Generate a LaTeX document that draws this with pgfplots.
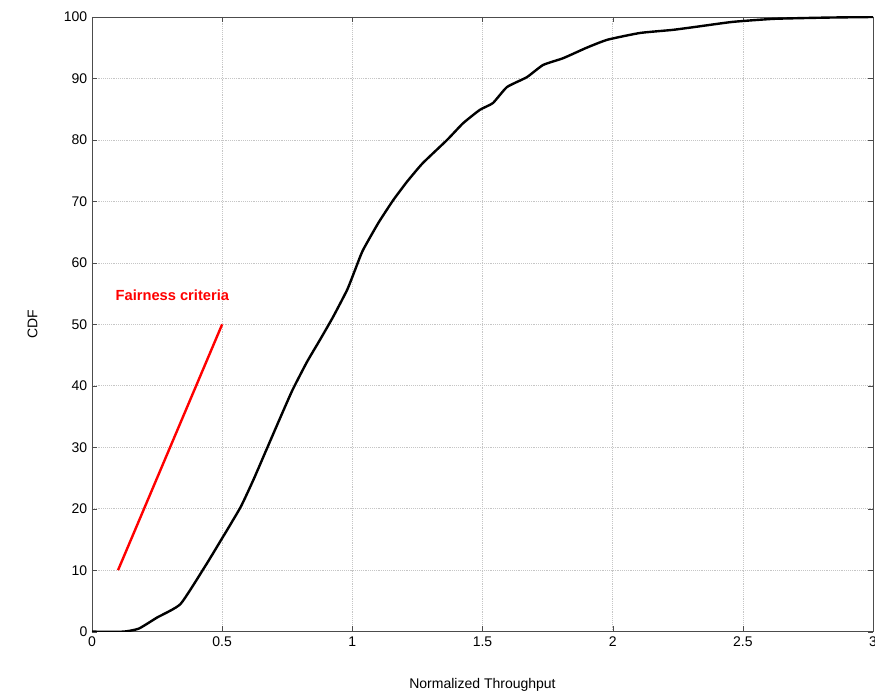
\documentclass[border=0pt]{standalone}
\usepackage{fontspec}
\setmainfont{Liberation Sans}
\usepackage{pgfplots}
\pgfplotsset{compat=1.18}
\usetikzlibrary{calc}

% CDF of normalized throughput
\pgfplotstableread{
x y
0.00 0.0
0.12 0.0
0.18 0.5
0.25 2.3
0.34 4.5
0.434 10.6
0.49 14.5
0.57 20.2
0.62 24.7
0.67 29.6
0.72 34.5
0.77 39.3
0.826 43.9
0.876 47.5
0.926 51.2
0.98 55.6
1.01 58.8
1.04 62.0
1.10 66.5
1.157 70.2
1.21 73.2
1.27 76.2
1.364 80.0
1.425 82.7
1.49 84.9
1.54 86.0
1.594 88.6
1.67 90.2
1.733 92.2
1.81 93.3
1.90 95.0
1.98 96.3
2.105 97.4
2.23 97.9
2.32 98.4
2.46 99.2
2.62 99.7
2.82 99.9
3.00 100.0
}\cdfdata

\begin{document}
\begin{tikzpicture}
\begin{axis}[
  scale only axis,
  width=585.75pt, height=461pt,
  xmin=0, xmax=3, ymin=0, ymax=100,
  xtick={0,0.5,1,1.5,2,2.5,3},
  ytick={0,10,...,100},
  xticklabels={0,0.5,1,1.5,2,2.5,3},
  grid=major,
  major grid style={densely dotted, gray!45, line width=0.5pt},
  tick align=inside,
  tick pos=both,
  major tick length=4pt,
  axis line style={gray!60!black, line width=0.6pt},
  tick style={gray!60!black},
  tick label style={font=\fontsize{10.5}{12}\selectfont},
  /pgf/number format/assume math mode=true,
  xlabel={Normalized Throughput},
  ylabel={CDF},
  label style={font=\fontsize{10.5}{12}\selectfont},
  xlabel style={yshift=-17pt},
  ylabel style={yshift=13pt},
]
\addplot[black, line width=1.8pt, smooth, tension=0.3] table[x=x, y=y] {\cdfdata};
\addplot[red, line width=1.8pt] coordinates {(0.1,10) (0.5,50)};
\node[anchor=west, text=red, font=\fontsize{11}{13}\selectfont\bfseries, inner sep=0pt]
  at (axis cs:0.09,54.8) {Fairness criteria};
\end{axis}
\pgfresetboundingbox
\path ($(current axis.south west)+(-69pt,-45pt)$) rectangle ($(current axis.north east)+(1.5pt,12.75pt)$);
\end{tikzpicture}
\end{document}
